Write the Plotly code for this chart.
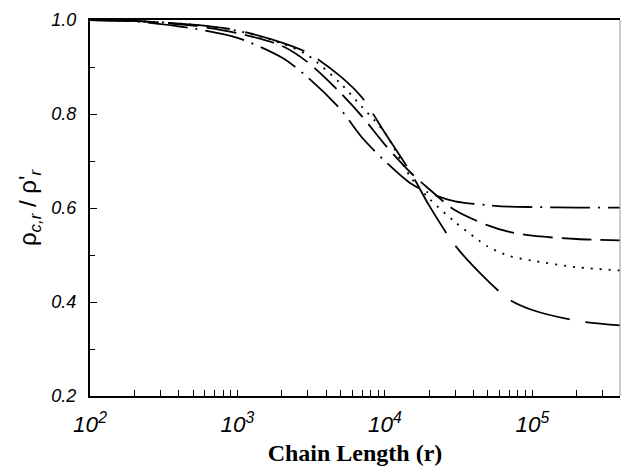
import plotly.graph_objects as go

# chain length grid (r) shared by all curves
chain_length = [100, 200, 500, 1000, 2000, 3000, 5000, 7000, 10000, 15000,
                20000, 30000, 50000, 70000, 100000, 200000, 400000]

# density ratio, one list per curve
long_dash_vals = [1.0, 0.998, 0.99, 0.978, 0.952, 0.93, 0.88, 0.835, 0.76, 0.675,
                  0.605, 0.52, 0.445, 0.405, 0.383, 0.36, 0.35]
dotted_vals = [1.0, 0.998, 0.99, 0.977, 0.95, 0.925, 0.865, 0.815, 0.76, 0.665,
               0.62, 0.57, 0.518, 0.498, 0.488, 0.474, 0.467]
dash_vals = [1.0, 0.998, 0.988, 0.972, 0.945, 0.91, 0.845, 0.795, 0.735, 0.675,
             0.64, 0.595, 0.563, 0.549, 0.541, 0.534, 0.531]
dash_dot_vals = [1.0, 0.997, 0.982, 0.962, 0.92, 0.878, 0.81, 0.75, 0.70, 0.652,
                 0.632, 0.614, 0.606, 0.603, 0.602, 0.601, 0.601]

y_ticks = [0.2, 0.4, 0.6, 0.8, 1.0]
y_tick_text = ["0.2", "0.4", "0.6", "0.8", "1.0"]

series = [
    (long_dash_vals, "62px,16px"),
    (dotted_vals, "2px,7px"),
    (dash_vals, "30px,9px"),
    (dash_dot_vals, "40px,8px,2px,8px"),
]

fig = go.Figure()
for vals, dash in series:
    fig.add_trace(go.Scatter(
        x=chain_length, y=vals, mode="lines",
        line=dict(color="black", width=1.8, dash=dash, shape="spline", smoothing=0.8),
        showlegend=False,
    ))

tick_font = dict(family="Liberation Sans, Arial", size=18, color="black", style="italic")

fig.update_xaxes(
    type="log", range=[2, 5.595], dtick=1, exponentformat="power", automargin=False,
    ticks="inside", ticklen=6, tickwidth=1.3, tickcolor="black",
    minor=dict(ticks="inside", ticklen=6, tickwidth=1.3, tickcolor="black", dtick="D1", showgrid=False),
    showline=True, linewidth=2, linecolor="black", mirror=True,
    showgrid=False, zeroline=False, tickfont=tick_font, ticklabelstandoff=8,
    title=dict(text="<b>Chain Length (r)</b>", standoff=8,
               font=dict(family="Liberation Serif, Times New Roman", size=24, color="black")),
)
fig.update_yaxes(
    range=[0.2, 1.0], tickvals=y_ticks, ticktext=y_tick_text, automargin=False,
    ticks="inside", ticklen=7, tickwidth=1.3, tickcolor="black",
    minor=dict(ticks="inside", ticklen=5, tickwidth=1.3, tickcolor="black", dtick=0.1, showgrid=False),
    showline=True, linewidth=2, linecolor="black",
    showgrid=False, zeroline=False, tickfont=tick_font, ticklabelstandoff=8,
    title=dict(text="ρ<sub><i>c,r</i></sub> / ρ'<sub><i>r</i></sub>", standoff=8,
               font=dict(family="Liberation Sans, Arial", size=24, color="black")),
)

# faint right-hand frame line as in the scan
fig.add_shape(type="line", xref="paper", yref="paper", x0=1, x1=1, y0=0, y1=1,
              line=dict(color="#999999", width=1))

fig.update_layout(
    width=621, height=468,
    margin=dict(l=90, r=1, t=20, b=72),
    paper_bgcolor="white", plot_bgcolor="white",
)

# drop the default page margin so the figure sits at the window corner
fig.write_html("out.html", config={"displayModeBar": False},
               post_script="document.body.style.margin='0';")
